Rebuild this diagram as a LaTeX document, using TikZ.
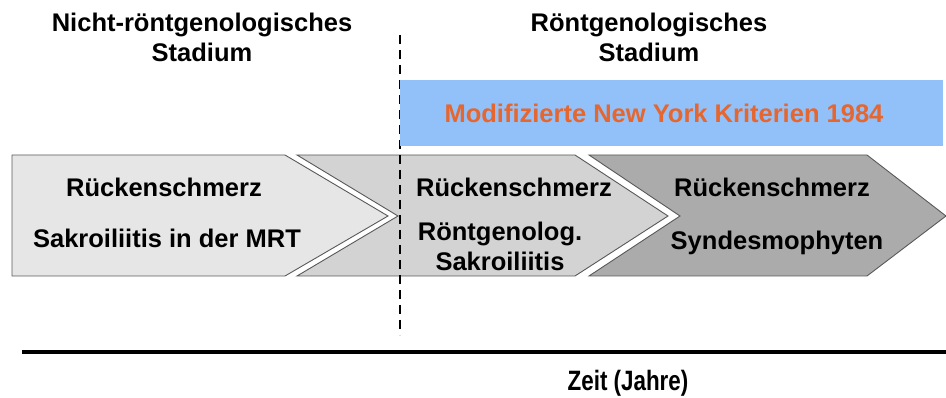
\documentclass[tikz,border=0pt]{standalone}
\usepackage{fontspec}
\setmainfont{Liberation Sans}
\definecolor{stageA}{HTML}{E6E6E6}
\definecolor{stageB}{HTML}{D3D3D3}
\definecolor{stageC}{HTML}{ABABAB}
\definecolor{nyblue}{HTML}{92C0F8}
\definecolor{nyorange}{HTML}{E5662E}
\tikzset{
  stage/.style={draw=black!65, line width=0.9pt},
  label/.style={font=\bfseries\fontsize{25.5}{30}\selectfont, align=center}
}
\begin{document}
\begin{tikzpicture}[x=1pt, y=-1pt]
				\useasboundingbox (0,0) rectangle (946,398);
				
				% Stadien
				\node[label] (HeadNR) at (202,37) {Nicht-röntgenologisches\\Stadium};
				\node[label] (HeadR) at (649,37) {Röntgenologisches\\Stadium};
				
				% Pfeile
				\draw[stage, fill=stageA] (12,155) -- (285,155) -- (388,216) -- (285,276) -- (12,276) -- cycle;
				\draw[stage, fill=stageB] (297,155) -- (575,155) -- (668,216) -- (575,276) -- (297,276) -- (398,216) -- cycle;
				\draw[stage, fill=stageC] (589,155) -- (867,155) -- (946,216) -- (867,276) -- (589,276) -- (680,216) -- cycle;
				
				\coordinate (DashTop) at (400,35);
				\coordinate (DashBot) at (400,335);
				\draw[line width=1.8pt, dash pattern=on 9pt off 6pt] (DashTop) -- (DashBot);
				
				\fill[nyblue] (400,80) rectangle (943,146);
				\node[label, text=nyorange] (NYText) at (664,113) {Modifizierte New York Kriterien 1984};
				
				\node[label] (PainA) at (164,187) {Rückenschmerz};
				\node[label] (MRT) at (167,238) {Sakroiliitis in der MRT};
				\node[label] (PainB) at (514,187) {Rückenschmerz};
				\node[label] (XRay) at (500,246) {Röntgenolog.\\Sakroiliitis};
				\node[label] (PainC) at (772,187) {Rückenschmerz};
				\node[label] (Synd) at (777,243) {Syndesmophyten};
				
				% Zeitachse
				\coordinate (TStart) at (22,352);
				\coordinate (TEnd) at (946,352);
				\draw[line width=4.5pt] (TStart) -- (TEnd);
				\node[label, font=\bfseries\fontsize{28}{32}\selectfont, xscale=0.8, transform shape] (Zeit) at (628,383) {Zeit (Jahre)};
				
			\end{tikzpicture}
\end{document}
